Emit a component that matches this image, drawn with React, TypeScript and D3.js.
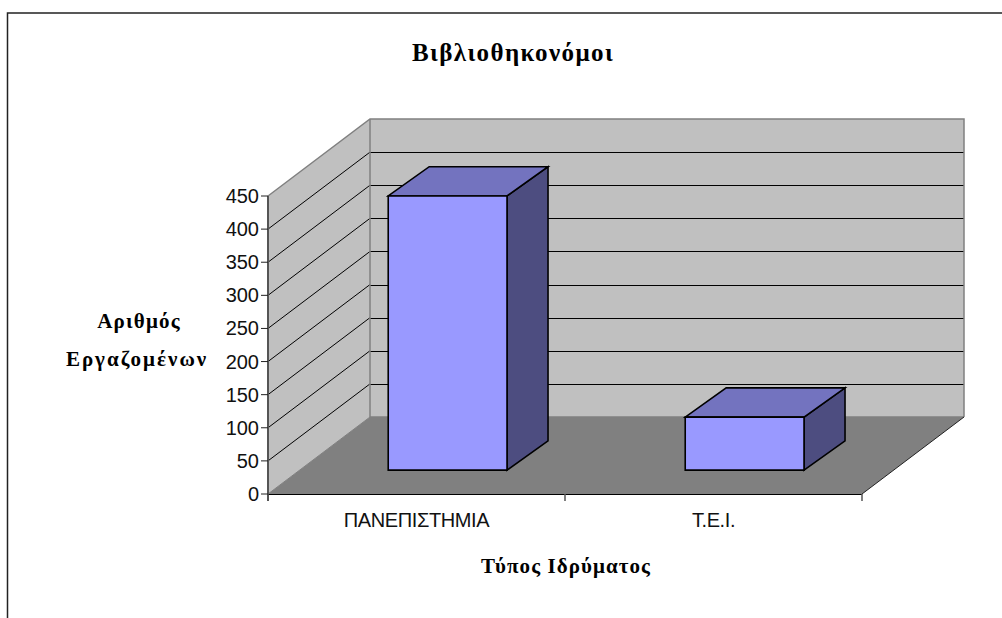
import React from "react";
import * as d3 from "d3";

const categories = ["ΠΑΝΕΠΙΣΤΗΜΙΑ", "Τ.Ε.Ι."];
const values = [414, 80];
const yTicks = [0, 50, 100, 150, 200, 250, 300, 350, 400, 450];
const titleText = "Βιβλιοθηκονόμοι";
const yTitleLines = ["Αριθμός", "Εργαζομένων"];
const xTitleText = "Τύπος Ιδρύματος";

const WALL = "#C0C0C0";
const FLOOR = "#808080";
const FRONT = "#9999FF";
const TOP = "#7373BF";
const SIDE = "#4D4D80";

const x = d3.scaleBand<string>().domain(categories).range([268, 862]).paddingInner(0).paddingOuter(0);
const y = d3.scaleLinear().domain([0, 450]).range([494, 196]);
const DX = 102;
const DY = -77;
// d is depth from 0 (front) to 1 (back)
const px = (xv: number, d: number) => xv + DX * d;
const py = (v: number, d: number) => y(v) + DY * d;
const poly = (pts: [number, number][]) => (d3.line()(pts) as string) + "Z";

const BAR_W = 118.8;
const D0 = 0.31;
const D1 = 0.69;
const D1X = 0.712;

export default function App() {
  const x0 = x.range()[0];
  const x1 = x.range()[1];
  const top = yTicks[yTicks.length - 1];
  const serif = "'Liberation Serif', serif";
  const sans = "'Liberation Sans', sans-serif";
  return (
    <svg width={1002} height={618} style={{ position: "absolute", left: 0, top: 0, background: "#fff" }}>
      <path d="M7.5,618V13H1002" fill="none" stroke="#222" strokeWidth={1.5} />
      <text x={513} y={61} textAnchor="middle" fontFamily={serif} fontWeight="bold" fontSize={25} letterSpacing={1.4}>{titleText}</text>

      {/* walls */}
      <path d={poly([[px(x0, 0), py(0, 0)], [px(x0, 1), py(0, 1)], [px(x0, 1), py(top, 1)], [px(x0, 0), py(top, 0)]])} fill={WALL} />
      <path d={poly([[px(x0, 1), py(0, 1)], [px(x1, 1), py(0, 1)], [px(x1, 1), py(top, 1)], [px(x0, 1), py(top, 1)]])} fill={WALL} />
      <path d={poly([[px(x0, 0), py(0, 0)], [px(x1, 0), py(0, 0)], [px(x1, 1), py(0, 1)], [px(x0, 1), py(0, 1)]])} fill={FLOOR} />

      {/* gridlines */}
      {yTicks.slice(1, -1).map((t) => (
        <g key={t}>
          <line x1={px(x0, 0)} y1={py(t, 0)} x2={px(x0, 1)} y2={py(t, 1)} stroke="#000" strokeWidth={1} />
          <line x1={px(x0, 1)} y1={Math.round(py(t, 1)) + 0.5} x2={px(x1, 1)} y2={Math.round(py(t, 1)) + 0.5} stroke="#000" strokeWidth={1} />
        </g>
      ))}

      {/* wall outlines */}
      <path d={`M${px(x0, 0)},${py(top, 0)}L${px(x0, 1)},${py(top, 1)}H${px(x1, 1)}V${py(0, 1)}`} fill="none" stroke="#808080" strokeWidth={1.5} />
      <path d={`M${px(x0, 1)},${py(top, 1)}V${py(0, 1)}H${px(x1, 1)}`} fill="none" stroke="#808080" strokeWidth={1.5} />
      <path d={`M${px(x0, 0)},${py(0, 0)}L${px(x0, 1)},${py(0, 1)}`} fill="none" stroke="#808080" strokeWidth={1} />
      <path d={`M${px(x1, 0)},${py(0, 0)}L${px(x1, 1)},${py(0, 1)}`} fill="none" stroke="#222" strokeWidth={1} />

      {/* bars */}
      {categories.map((c, i) => {
        const v = values[i];
        const l = (x(c) as number) + (x.bandwidth() - BAR_W) / 2 - 0.5;
        const r = l + BAR_W;
        const front: [number, number][] = [[px(l, D0), py(0, D0)], [px(r, D0), py(0, D0)], [px(r, D0), py(v, D0)], [px(l, D0), py(v, D0)]];
        const side: [number, number][] = [[px(r, D0), py(0, D0)], [px(r, D1X), py(0, D1)], [px(r, D1X), py(v, D1)], [px(r, D0), py(v, D0)]];
        const topF: [number, number][] = [[px(l, D0), py(v, D0)], [px(r, D0), py(v, D0)], [px(r, D1X), py(v, D1)], [px(l, D1X), py(v, D1)]];
        return (
          <g key={c} stroke="#000" strokeWidth={1.6} strokeLinejoin="miter">
            <path d={poly(side)} fill={SIDE} />
            <path d={poly(topF)} fill={TOP} />
            <path d={poly(front)} fill={FRONT} />
          </g>
        );
      })}

      {/* axes */}
      <line x1={x0} y1={py(top, 0)} x2={x0} y2={py(0, 0) + 7} stroke="#555" strokeWidth={2} />
      <line x1={x0} y1={py(0, 0) + 0.5} x2={x1} y2={py(0, 0) + 0.5} stroke="#000" strokeWidth={1.2} />
      {[...categories.map((c) => x(c) as number), x1].map((tx) => (
        <line key={tx} x1={tx} y1={py(0, 0)} x2={tx} y2={py(0, 0) + 7} stroke="#555" strokeWidth={1.5} />
      ))}
      {yTicks.map((t) => (
        <g key={t}>
          <line x1={x0 - 7} y1={y(t)} x2={x0} y2={y(t)} stroke="#222" strokeWidth={1} />
          <text x={x0 - 9} y={y(t) + 7} textAnchor="end" fontFamily={sans} fontSize={20} fill="#111">{t}</text>
        </g>
      ))}
      {categories.map((c) => (
        <text key={c} x={(x(c) as number) + x.bandwidth() / 2} y={526.5} textAnchor="middle" fontFamily={sans} fontSize={20} fill="#111" letterSpacing={-0.4}>{c}</text>
      ))}

      <text x={139} y={328} textAnchor="middle" fontFamily={serif} fontWeight="bold" fontSize={21} letterSpacing={1.2}>{yTitleLines[0]}</text>
      <text x={137} y={366} textAnchor="middle" fontFamily={serif} fontWeight="bold" fontSize={21} letterSpacing={2}>{yTitleLines[1]}</text>
      <text x={566} y={573} textAnchor="middle" fontFamily={serif} fontWeight="bold" fontSize={21} letterSpacing={1.07}>{xTitleText}</text>
    </svg>
  );
}
